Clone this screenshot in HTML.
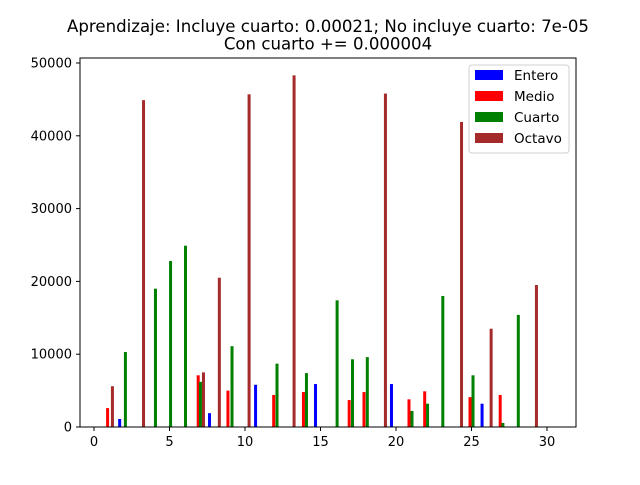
<!DOCTYPE html>
<html><head><meta charset="utf-8"><style>
body{margin:0;background:#fff}
svg{font-family:"DejaVu Sans","Liberation Sans",sans-serif}
</style></head><body>
<svg id="chart" width="640" height="480">
<rect width="640" height="480" fill="#fff"/>
<text x="328" y="32" text-anchor="middle" font-size="16.6">Aprendizaje: Incluye cuarto: 0.00021; No incluye cuarto: 7e-05</text>
<text x="328" y="49.5" text-anchor="middle" font-size="16.6">Con cuarto += 0.000004</text>
<g id="bars"></g>
<rect x="80" y="58" width="496" height="369" fill="none" stroke="#000" stroke-width="1"/>
<g id="xaxis" font-size="13"></g>
<g id="yaxis" font-size="13"></g>
<g>
<rect x="469" y="65" width="100" height="88" rx="3" fill="#fff" stroke="#ccc" opacity="0.9"/>
<rect x="475" y="70" width="28" height="10" fill="blue"/>
<text x="514" y="80" font-size="13.5">Entero</text>
<rect x="475" y="91" width="28" height="10" fill="red"/>
<text x="514" y="101" font-size="13.5">Medio</text>
<rect x="475" y="112" width="28" height="10" fill="green"/>
<text x="514" y="122" font-size="13.5">Cuarto</text>
<rect x="475" y="133" width="28" height="10" fill="brown"/>
<text x="514" y="143" font-size="13.5">Octavo</text>
</g>
</svg>
<script>
const enteroX=[1.7,7.65,10.7,14.67,19.7,25.7];
const enteroV=[1100,1900,5800,5900,5900,3200];
const medioX=[0.9,6.9,8.87,11.9,13.87,16.9,17.88,20.86,21.9,24.9,26.9];
const medioV=[2600,7100,5000,4400,4800,3700,4800,3800,4900,4100,4400];
const cuartoX=[2.08,4.07,5.07,6.06,7.05,9.14,12.12,14.07,16.1,17.12,18.1,21.06,22.09,23.1,25.1,27.08,28.1];
const cuartoV=[10300,19000,22800,24900,6200,11100,8700,7400,17400,9300,9600,2200,3200,18000,7100,550,15400];
const octavoX=[1.22,3.28,7.25,8.3,10.27,13.25,19.3,24.34,26.3,29.3];
const octavoV=[5600,44900,7500,20500,45700,48300,45800,41900,13500,19500];
const xTicks=[0,5,10,15,20,25,30];
const yTicks=[0,10000,20000,30000,40000,50000];
const NS="http://www.w3.org/2000/svg";
function sx(v){return 94+v*15.1;}
function sy(v){return 427-v*0.00728;}
const bars=document.getElementById('bars');
function series(xs,vs,color,name){
  xs.forEach((x,i)=>{
    const r=document.createElementNS(NS,'rect');
    r.setAttribute('x',sx(x)-1.5);r.setAttribute('width',3);
    r.setAttribute('y',sy(vs[i]));r.setAttribute('height',sy(0)-sy(vs[i]));
    r.setAttribute('fill',color);
    
    
    bars.appendChild(r);
  });
}
series(enteroX,enteroV,'blue','entero');
series(medioX,medioV,'red','medio');
series(cuartoX,cuartoV,'green','cuarto');
series(octavoX,octavoV,'brown','octavo');
const xa=document.getElementById('xaxis');
xTicks.forEach(t=>{
  const l=document.createElementNS(NS,'line');
  l.setAttribute('x1',sx(t));l.setAttribute('x2',sx(t));l.setAttribute('y1',427);l.setAttribute('y2',431);l.setAttribute('stroke','#000');
  
  
  xa.appendChild(l);
  const tx=document.createElementNS(NS,'text');
  tx.setAttribute('x',sx(t));tx.setAttribute('y',446);tx.setAttribute('text-anchor','middle');tx.textContent=t;
  
  
  xa.appendChild(tx);
});
const ya=document.getElementById('yaxis');
yTicks.forEach(t=>{
  const l=document.createElementNS(NS,'line');
  l.setAttribute('x1',76);l.setAttribute('x2',80);l.setAttribute('y1',sy(t));l.setAttribute('y2',sy(t));l.setAttribute('stroke','#000');
  
  
  ya.appendChild(l);
  const tx=document.createElementNS(NS,'text');
  tx.setAttribute('x',72);tx.setAttribute('y',sy(t)+4.5);tx.setAttribute('text-anchor','end');tx.textContent=t;
  
  
  ya.appendChild(tx);
});
</script>
</body></html>
